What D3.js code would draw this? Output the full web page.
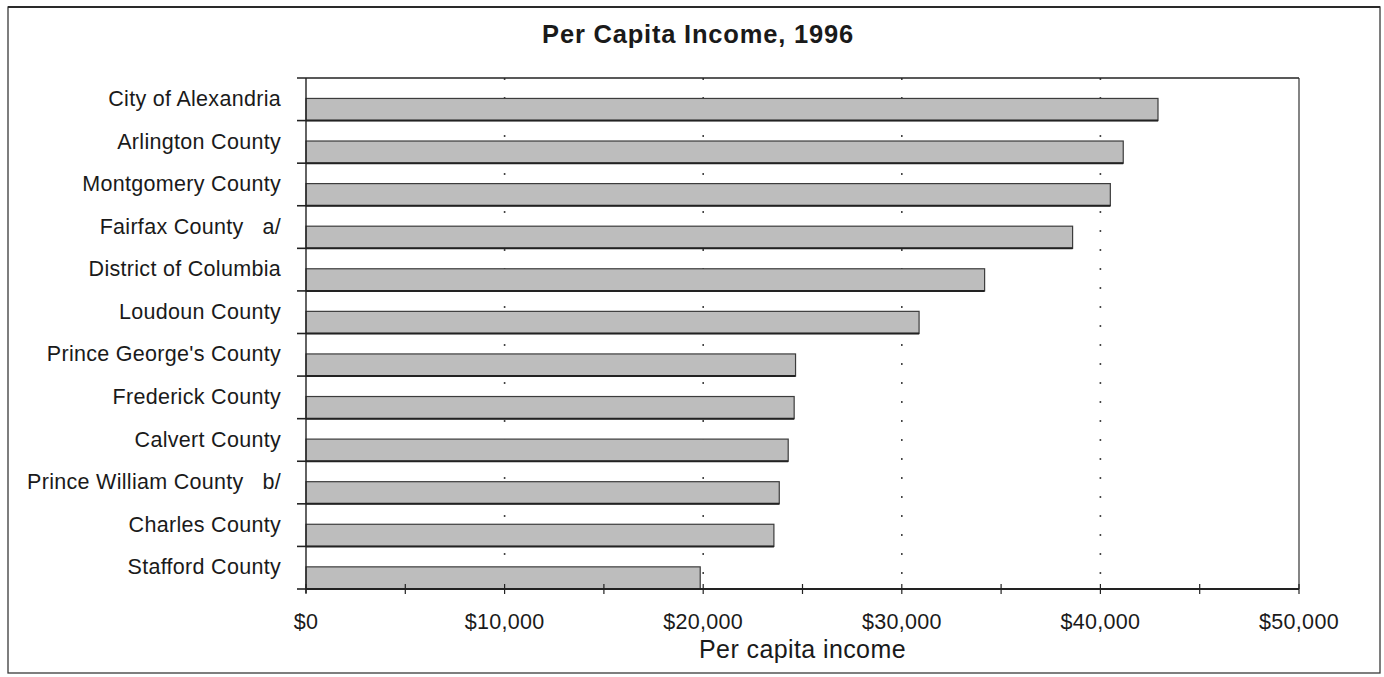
<!DOCTYPE html>
<html>
<head>
<meta charset="utf-8">
<script src="https://cdn.jsdelivr.net/npm/d3@7"></script>
<style>
  html, body { margin: 0; padding: 0; background: #fff; }
  svg { display: block; }
  text { font-family: "Liberation Sans", Arial, Helvetica, sans-serif; fill: #1a1a1a; }
</style>
</head>
<body>
<svg id="chart" width="1384" height="677"></svg>
<script>
const categories = [
  "City of Alexandria",
  "Arlington County",
  "Montgomery County",
  "Fairfax County   a/",
  "District of Columbia",
  "Loudoun County",
  "Prince George's County",
  "Frederick County",
  "Calvert County",
  "Prince William County   b/",
  "Charles County",
  "Stafford County"
];
const incomes = [42900, 41150, 40500, 38600, 34170, 30870, 24650, 24580, 24280, 23830, 23560, 19850];
const majorTicks = [0, 10000, 20000, 30000, 40000, 50000];
const minorTicks = [5000, 15000, 25000, 35000, 45000];
const gridValues = [10000, 20000, 30000, 40000];
const chartTitle = "Per Capita Income, 1996";
const xTitle = "Per capita income";

const svg = d3.select("#chart");
const plot = { left: 306, right: 1299, top: 78, bottom: 589 };

// outer frame
svg.append("rect")
  .attr("x", 8).attr("y", 7).attr("width", 1372).attr("height", 666)
  .attr("fill", "none").attr("stroke", "#3a3a3a").attr("stroke-width", 1.3);
svg.append("line").attr("x1", 8).attr("x2", 1380).attr("y1", 7).attr("y2", 7)
  .attr("stroke", "#2a2a2a").attr("stroke-width", 2);

const x = d3.scaleLinear().domain([0, 50000]).range([plot.left, plot.right]);
const y = d3.scaleBand().domain(categories).range([plot.top, plot.bottom]).padding(0);
const bw = y.bandwidth();

// dotted gridlines
svg.append("g").selectAll("line").data(gridValues).join("line")
  .attr("x1", d => x(d)).attr("x2", d => x(d))
  .attr("y1", plot.top).attr("y2", plot.bottom)
  .attr("stroke", "#444").attr("stroke-width", 1.6)
  .attr("stroke-dasharray", "2,17");

// bars
svg.append("g").selectAll("rect").data(categories).join("rect")
  .attr("x", x(0))
  .attr("y", c => y(c) + bw * 0.48)
  .attr("width", (c, i) => x(incomes[i]) - x(0))
  .attr("height", bw * 0.52)
  .attr("fill", "#bdbdbd")
  .attr("stroke", "#3c3c3c").attr("stroke-width", 1.2);

// bottom edges (darker)
svg.append("g").selectAll("line").data(categories).join("line")
  .attr("x1", x(0)).attr("x2", (c, i) => x(incomes[i]))
  .attr("y1", c => y(c) + bw).attr("y2", c => y(c) + bw)
  .attr("stroke", "#222").attr("stroke-width", 2);

// plot frame: top & right
svg.append("line").attr("x1", plot.left - 9).attr("x2", plot.right)
  .attr("y1", plot.top).attr("y2", plot.top)
  .attr("stroke", "#222").attr("stroke-width", 1.6);
svg.append("line").attr("x1", plot.right).attr("x2", plot.right)
  .attr("y1", plot.top).attr("y2", plot.bottom)
  .attr("stroke", "#333").attr("stroke-width", 1.2);

// left axis line and category separator ticks
svg.append("line").attr("x1", plot.left).attr("x2", plot.left)
  .attr("y1", plot.top).attr("y2", plot.bottom + 4)
  .attr("stroke", "#222").attr("stroke-width", 1.4);
svg.append("g").selectAll("line").data(categories).join("line")
  .attr("x1", plot.left - 9).attr("x2", plot.left)
  .attr("y1", c => y(c) + bw).attr("y2", c => y(c) + bw)
  .attr("stroke", "#222").attr("stroke-width", 1.6);

// category labels
svg.append("g").selectAll("text").data(categories).join("text")
  .attr("x", 281)
  .attr("y", c => y(c) + bw / 2 + 1)
  .attr("text-anchor", "end")
  .attr("dominant-baseline", "middle")
  .style("white-space", "pre")
  .attr("font-size", 21.5)
  .attr("letter-spacing", 0.3)
  .text(c => c);

// bottom axis
svg.append("line").attr("x1", plot.left).attr("x2", plot.right)
  .attr("y1", plot.bottom).attr("y2", plot.bottom)
  .attr("stroke", "#222").attr("stroke-width", 1.8);
svg.append("g").selectAll("line").data(majorTicks.concat(minorTicks)).join("line")
  .attr("x1", d => x(d)).attr("x2", d => x(d))
  .attr("y1", plot.bottom - 5).attr("y2", plot.bottom + 5)
  .attr("stroke", "#222").attr("stroke-width", 1.2);

const fmt = d3.format("$,");
svg.append("g").selectAll("text").data(majorTicks).join("text")
  .attr("x", d => x(d)).attr("y", 629)
  .attr("text-anchor", "middle")
  .attr("font-size", 21.5)
  .attr("letter-spacing", 0.3)
  .text(d => fmt(d));

svg.append("text")
  .attr("x", (plot.left + plot.right) / 2).attr("y", 658)
  .attr("text-anchor", "middle")
  .attr("font-size", 25)
  .attr("letter-spacing", 0.4)
  .text(xTitle);

svg.append("text")
  .attr("x", 698).attr("y", 43)
  .attr("text-anchor", "middle")
  .attr("font-size", 25.5)
  .attr("font-weight", "bold")
  .attr("letter-spacing", 0.8)
  .text(chartTitle);
</script>
</body>
</html>
